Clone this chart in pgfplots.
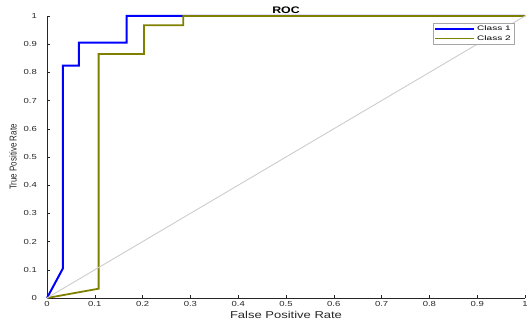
\documentclass[border=0pt]{standalone}
\usepackage{pgfplots}
\pgfplotsset{compat=1.18}
\usepackage{fontspec}
\setmainfont{Liberation Sans}
\newfontfamily\tickfont[FakeStretch=1.3]{Liberation Sans}
\newfontfamily\labfont[FakeStretch=1.3]{Liberation Sans}
\newfontfamily\ylabfont[FakeStretch=0.8]{Liberation Sans}
\newfontfamily\legfont[FakeStretch=1.55]{Liberation Sans}
\definecolor{axgray}{rgb}{0.15,0.15,0.15}
\definecolor{olivec}{rgb}{0.5,0.5,0}
\definecolor{diagc}{rgb}{0.8,0.8,0.8}
\begin{document}
\begin{tikzpicture}
\begin{axis}[
  scale only axis, width=478bp, height=282bp,
  xmin=0, xmax=1, ymin=0, ymax=1,
  axis lines=left,
  axis line style={axgray, line width=0.7bp, -},
  clip=false,
  xtick={0,0.1,0.2,0.3,0.4,0.5,0.6,0.7,0.8,0.9,1},
  ytick={0,0.1,0.2,0.3,0.4,0.5,0.6,0.7,0.8,0.9,1},
  tick align=inside, major tick length=3bp,
  tick style={axgray, line width=0.5bp},
  /pgf/number format/assume math mode=true,
  tick label style={font=\tickfont\fontsize{7.3bp}{8bp}\selectfont, text=axgray},
  xticklabel style={anchor=base, yshift=-8bp},
  yticklabel style={anchor=east, inner sep=0pt, xshift=-10bp},
  title={\bfseries ROC},
  title style={font=\labfont\fontsize{9.5bp}{10bp}\selectfont, at={(rel axis cs:0.5,1)}, anchor=base, yshift=-3bp},
  xlabel={False Positive Rate},
  every axis x label/.style={at={(rel axis cs:0.5,0)}, anchor=base, yshift=-20.3bp, font=\labfont\fontsize{10bp}{11bp}\selectfont, text=axgray},
  ylabel={True Positive Rate},
  every axis y label/.style={at={(rel axis cs:0,0.5)}, rotate=90, anchor=base, yshift=30.3bp, font=\ylabfont\fontsize{10bp}{11bp}\selectfont, text=axgray},
  legend style={at={(rel axis cs:0.977,0.975)}, anchor=north east, draw=gray!70,
    font=\legfont\fontsize{6.5bp}{7bp}\selectfont, inner sep=1bp, row sep=-1bp},
  legend cell align=left,
  legend image code/.code={\draw[#1] (0bp,0bp) -- (39bp,0bp);},
]
\addplot[blue, line width=2bp] coordinates {
  (0,0) (0.0333,0.105) (0.0333,0.824) (0.0667,0.824) (0.0667,0.906)
  (0.1667,0.906) (0.1667,1) (1,1)
};
\addlegendentry{Class 1}
\addplot[olivec, line width=1.8bp] coordinates {
  (0,0) (0.108,0.033) (0.108,0.865) (0.203,0.865) (0.203,0.967)
  (0.285,0.967) (0.285,1) (1,1)
};
\addlegendentry{Class 2}
\addplot[diagc, line width=0.9bp, forget plot] coordinates {(0,0) (1,1)};
\end{axis}
\pgfresetboundingbox
\path (current axis.south west) ++(-47bp,-29bp) rectangle ++(528bp,327bp);
\end{tikzpicture}
\end{document}
